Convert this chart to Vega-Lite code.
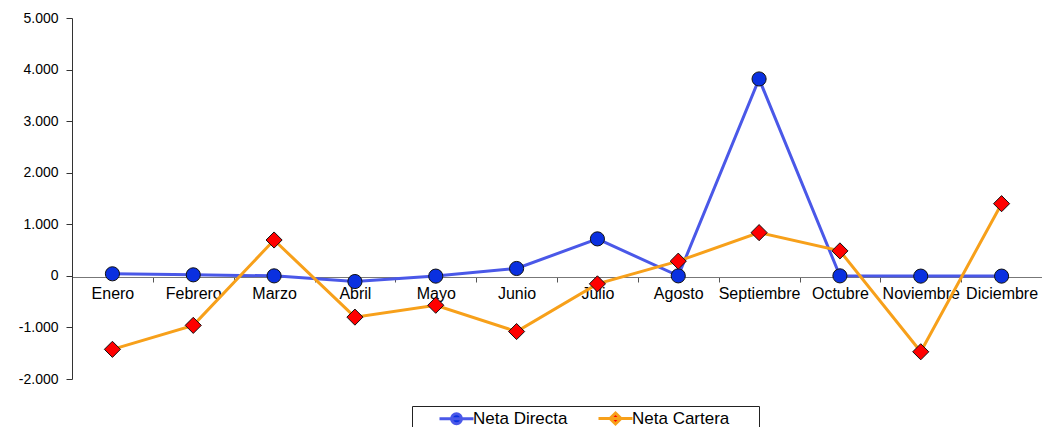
{
  "$schema": "https://vega.github.io/schema/vega-lite/v6.json",
  "autosize": "none",
  "width": 970,
  "height": 361,
  "padding": {"left": 72, "top": 18, "right": 0, "bottom": 48},
  "background": "white",
  "config": {
    "locale": {"number": {"decimal": ",", "thousands": ".", "grouping": [3], "currency": ["", ""], "minus": "-"}},
    "font": "Liberation Sans",
    "view": {"stroke": null},
    "axis": {"grid": false, "labelFont": "Liberation Sans", "labelColor": "black", "domainColor": "#555", "tickColor": "#555"}
  },
  "data": {"values": [
    {"mes": "Enero", "serie": "Neta Directa", "valor": 40},
    {"mes": "Febrero", "serie": "Neta Directa", "valor": 20},
    {"mes": "Marzo", "serie": "Neta Directa", "valor": 0},
    {"mes": "Abril", "serie": "Neta Directa", "valor": -110},
    {"mes": "Mayo", "serie": "Neta Directa", "valor": -5},
    {"mes": "Junio", "serie": "Neta Directa", "valor": 143},
    {"mes": "Julio", "serie": "Neta Directa", "valor": 717},
    {"mes": "Agosto", "serie": "Neta Directa", "valor": 0},
    {"mes": "Septiembre", "serie": "Neta Directa", "valor": 3818},
    {"mes": "Octubre", "serie": "Neta Directa", "valor": 0},
    {"mes": "Noviembre", "serie": "Neta Directa", "valor": -5},
    {"mes": "Diciembre", "serie": "Neta Directa", "valor": -5},
    {"mes": "Enero", "serie": "Neta Cartera", "valor": -1425},
    {"mes": "Febrero", "serie": "Neta Cartera", "valor": -960},
    {"mes": "Marzo", "serie": "Neta Cartera", "valor": 695},
    {"mes": "Abril", "serie": "Neta Cartera", "valor": -800},
    {"mes": "Mayo", "serie": "Neta Cartera", "valor": -570},
    {"mes": "Junio", "serie": "Neta Cartera", "valor": -1080},
    {"mes": "Julio", "serie": "Neta Cartera", "valor": -155},
    {"mes": "Agosto", "serie": "Neta Cartera", "valor": 285},
    {"mes": "Septiembre", "serie": "Neta Cartera", "valor": 838},
    {"mes": "Octubre", "serie": "Neta Cartera", "valor": 484},
    {"mes": "Noviembre", "serie": "Neta Cartera", "valor": -1472},
    {"mes": "Diciembre", "serie": "Neta Cartera", "valor": 1400}
  ]},
  "encoding": {
    "x": {
      "field": "mes", "type": "nominal", "sort": null,
      "scale": {"type": "band", "paddingInner": 0, "paddingOuter": 0},
      "axis": {"title": null, "labelAngle": 0, "offset": -102, "tickBand": "extent", "tickSize": 5, "labelPadding": 3, "domainColor": "#777", "labelFontSize": 16}
    },
    "y": {
      "field": "valor", "type": "quantitative",
      "scale": {"domain": [-2000, 5000], "nice": false},
      "axis": {"title": null, "values": [-2000, -1000, 0, 1000, 2000, 3000, 4000, 5000], "format": ",d", "tickSize": 6, "labelPadding": 8, "labelFontSize": 14, "domainColor": "#333", "tickColor": "#333"}
    }
  },
  "layer": [
    {
      "mark": {"type": "line", "strokeWidth": 3},
      "encoding": {
        "color": {
          "field": "serie", "type": "nominal",
          "scale": {"domain": ["Neta Directa", "Neta Cartera"], "range": ["#4A58E8", "#F7A01A"]},
          "legend": {
            "title": "\u00a0", "titleOrient": "right", "titleFontSize": 17, "titlePadding": 26,
            "orient": "none", "legendX": 340, "legendY": 388, "direction": "horizontal",
            "strokeColor": "#222", "fillColor": "white", "padding": 4, "symbolSize": 100,
            "symbolStrokeWidth": 3, "labelFontSize": 17, "labelFont": "Liberation Sans", "labelColor": "black",
            "labelOffset": 40, "columnPadding": 7,
            "encode": {"symbols": {"update": {
              "shape": {"signal": "datum.value === 'Neta Directa' ? 'M3,0H9.8M5.4,0A1,1 0 1,1 7.4,0A1,1 0 1,1 5.4,0Z' : 'M3,0H9.8M6.4,-1.1L7.5,0L6.4,1.1L5.3,0Z'"},
              "fill": {"signal": "datum.value === 'Neta Directa' ? '#0A30E0' : '#FF0000'"}
            }}}
          }
        }
      }
    },
    {
      "transform": [{"filter": "datum.serie === 'Neta Directa'"}],
      "mark": {"type": "point", "shape": "circle", "filled": true, "fill": "#0A30E0", "stroke": "#111", "strokeWidth": 1, "opacity": 1, "size": 200}
    },
    {
      "transform": [{"filter": "datum.serie === 'Neta Cartera'"}],
      "mark": {"type": "point", "shape": "diamond", "filled": true, "fill": "#FF0000", "stroke": "#111", "strokeWidth": 1, "opacity": 1, "size": 260}
    }
  ]
}
